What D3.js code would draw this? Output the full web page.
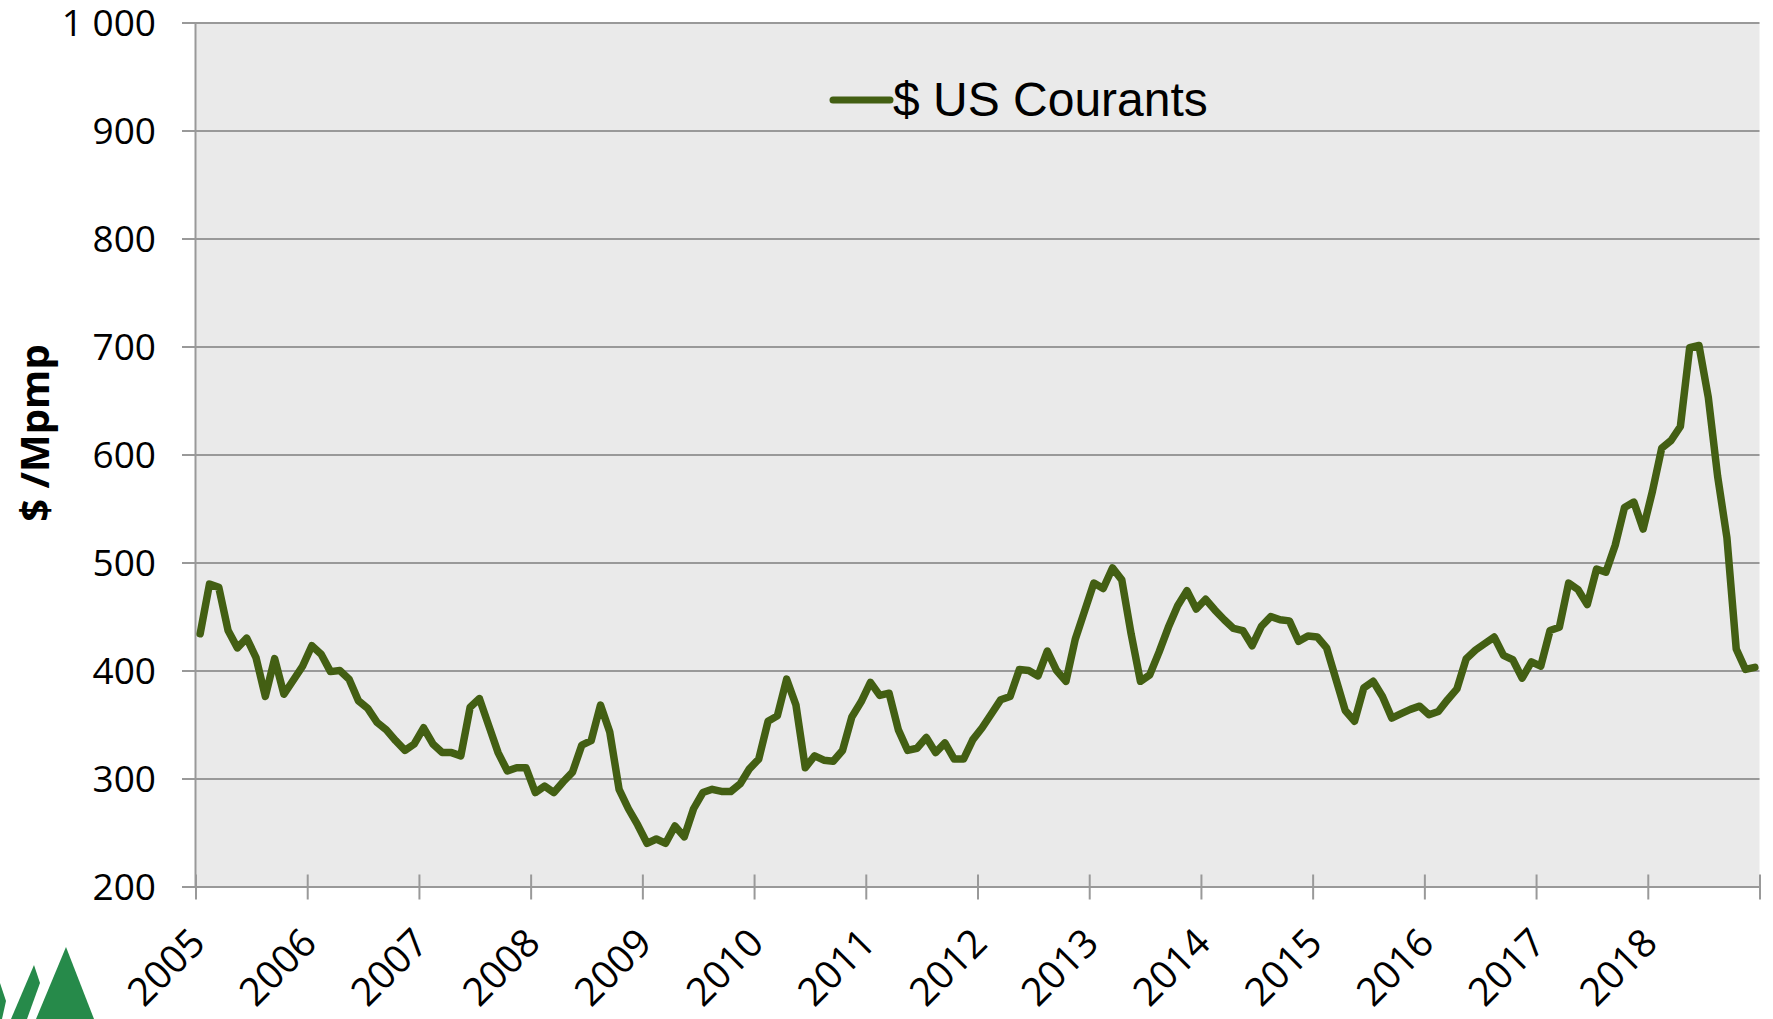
<!DOCTYPE html>
<html>
<head>
<meta charset="utf-8">
<script src="https://cdn.jsdelivr.net/npm/d3@7"></script>
<style>
  body { margin: 0; background: #fff; }
  .tick-label { font-family: "Open Sans", "Noto Sans", sans-serif; font-size: 37px; fill: #000; }
  .x-label { font-size: 39px; }
  .y-title { font-family: "Open Sans", "Noto Sans", sans-serif; font-size: 40px; font-weight: bold; fill: #000; }
  .legend-text { font-family: "Liberation Sans", Arial, sans-serif; font-size: 48px; fill: #000; }
</style>
</head>
<body>
<div id="chart"></div>
<script>
var width = 1773,
    height = 1019;

// tick labels
var years = ["2005", "2006", "2007", "2008", "2009", "2010", "2011",
             "2012", "2013", "2014", "2015", "2016", "2017", "2018"];
var yTicks = [200, 300, 400, 500, 600, 700, 800, 900, 1000];

var seriesName = "$ US Courants";

// monthly price, $ /Mpmp, jan 2005 -> dec 2018
var prices = [
  434, 480, 477, 437, 421, 430, 412, 376, 411, 378, 391, 404,   // 2005
  423, 415, 399, 400, 392, 372, 365, 352, 345, 335, 326, 332,   // 2006
  347, 332, 324, 324, 321, 366, 374, 349, 324, 307, 310, 310,   // 2007
  287, 293, 287, 297, 306, 331, 335, 368, 343, 290, 272, 257,   // 2008
  240, 244, 240, 256, 246, 272, 287, 290, 288, 288, 295, 309,   // 2009
  318, 353, 358, 392, 368, 310, 321, 317, 316, 326, 357, 371,   // 2010
  389, 377, 379, 345, 326, 328, 338, 324, 333, 318, 318, 336,   // 2011
  347, 360, 373, 376, 401, 400, 395, 418, 400, 390, 429, 455,   // 2012
  481, 476, 495, 484, 434, 390, 396, 417, 440, 460, 474, 457,   // 2013
  466, 456, 447, 439, 437, 423, 441, 450, 447, 446, 427, 432,   // 2014
  431, 421, 392, 363, 353, 384, 390, 376, 356, 360, 364, 367,   // 2015
  359, 362, 373, 383, 411, 419, 425, 431, 414, 410, 393, 408,   // 2016
  404, 437, 440, 481, 475, 461, 494, 491, 516, 551, 556, 531,   // 2017
  566, 606, 613, 626, 699, 701, 653, 580, 523, 420, 401, 403    // 2018
];

var lineColor = "#435f13",
    gridColor = "#999999";

// plot box (careful: "top" is taken by window)
var plotLeft = 195.5,
    plotRight = 1759.5,
    plotTop = 22.6,
    plotBottom = 886.5;

var svg = d3.select("#chart").append("svg")
    .attr("width", width)
    .attr("height", height);

// months since jan 2005, points sit in the middle of their month
var x = d3.scaleLinear()
    .domain([0, years.length * 12])
    .range([plotLeft, plotRight]);

var y = d3.scaleLinear()
    .domain([200, 1000])
    .range([plotBottom, plotTop]);

var fmt = d3.formatLocale({decimal: ",", thousands: "\u00a0", grouping: [3], currency: ["", "$"]}).format(",");

svg.append("rect")
    .attr("x", x(0))
    .attr("y", y(1000))
    .attr("width", x(years.length * 12) - x(0))
    .attr("height", y(200) - y(1000))
    .attr("fill", "#eaeaea");

// gridlines + y labels (ticks run out past the axis)
var yAxis = svg.append("g")
    .attr("transform", "translate(" + plotRight + ",0)")
    .call(d3.axisLeft(y)
      .tickValues(yTicks)
      .tickSize(plotRight - 182)
      .tickPadding(26)
      .tickFormat(fmt));
yAxis.attr("font-family", null).attr("font-size", null);
yAxis.select(".domain").remove();
yAxis.selectAll("line")
    .attr("stroke", gridColor)
    .attr("stroke-width", 2);
yAxis.selectAll("text")
    .attr("class", "tick-label")
    .attr("dy", "0.35em");

// y axis line
svg.append("line")
    .attr("x1", plotLeft).attr("x2", plotLeft)
    .attr("y1", y(1000)).attr("y2", y(200))
    .attr("stroke", gridColor)
    .attr("stroke-width", 2);

// x axis: cross tick marks every january
var yearTicks = d3.range(0, years.length * 12 + 1, 12);
var xAxis = svg.append("g")
    .attr("transform", "translate(0," + (plotBottom - 12) + ")")
    .call(d3.axisBottom(x)
      .tickValues(yearTicks)
      .tickSize(25)
      .tickFormat(""));
xAxis.select(".domain").remove();
xAxis.selectAll("line")
    .attr("stroke", gridColor)
    .attr("stroke-width", 2);

svg.append("g")
  .selectAll("text")
  .data(years)
  .enter().append("text")
    .attr("class", "tick-label x-label")
    .attr("text-anchor", "end")
    .attr("dy", "0.35em")
    .attr("transform", function(d, i) {
      return "translate(" + (x(i * 12) + 2) + "," + (plotBottom + 49) + ")rotate(-45)";
    })
    .text(function(d) { return d; });

// y title
svg.append("text")
    .attr("class", "y-title")
    .attr("text-anchor", "middle")
    .attr("dy", "0.35em")
    .attr("transform", "translate(35,433)rotate(-90)")
    .text("$ /Mpmp");

// the series
var line = d3.line()
    .x(function(d, i) { return x(i + 0.5); })
    .y(function(d) { return y(d); });

svg.append("path")
    .datum(prices)
    .attr("fill", "none")
    .attr("stroke", lineColor)
    .attr("stroke-width", 7.5)
    .attr("stroke-linejoin", "round")
    .attr("stroke-linecap", "round")
    .attr("d", line);

// legend
var legend = svg.append("g")
    .attr("transform", "translate(833,100)");
legend.append("line")
    .attr("x1", 0).attr("x2", 57)
    .attr("y1", 0).attr("y2", 0)
    .attr("stroke", lineColor)
    .attr("stroke-width", 7)
    .attr("stroke-linecap", "round");
legend.append("text")
    .attr("class", "legend-text")
    .attr("x", 60)
    .attr("y", 16)
    .text(seriesName);

// logo, cut by the bottom-left corner
var logo = svg.append("g").attr("fill", "#268a4a");
logo.append("path").attr("d", "M66,947L94,1019L36,1019Z");
logo.append("path").attr("d", "M34,965L40,983L27,1019L11,1019Z");
logo.append("path").attr("d", "M0,983L6,1001L2,1019L0,1019Z");
</script>
</body>
</html>
